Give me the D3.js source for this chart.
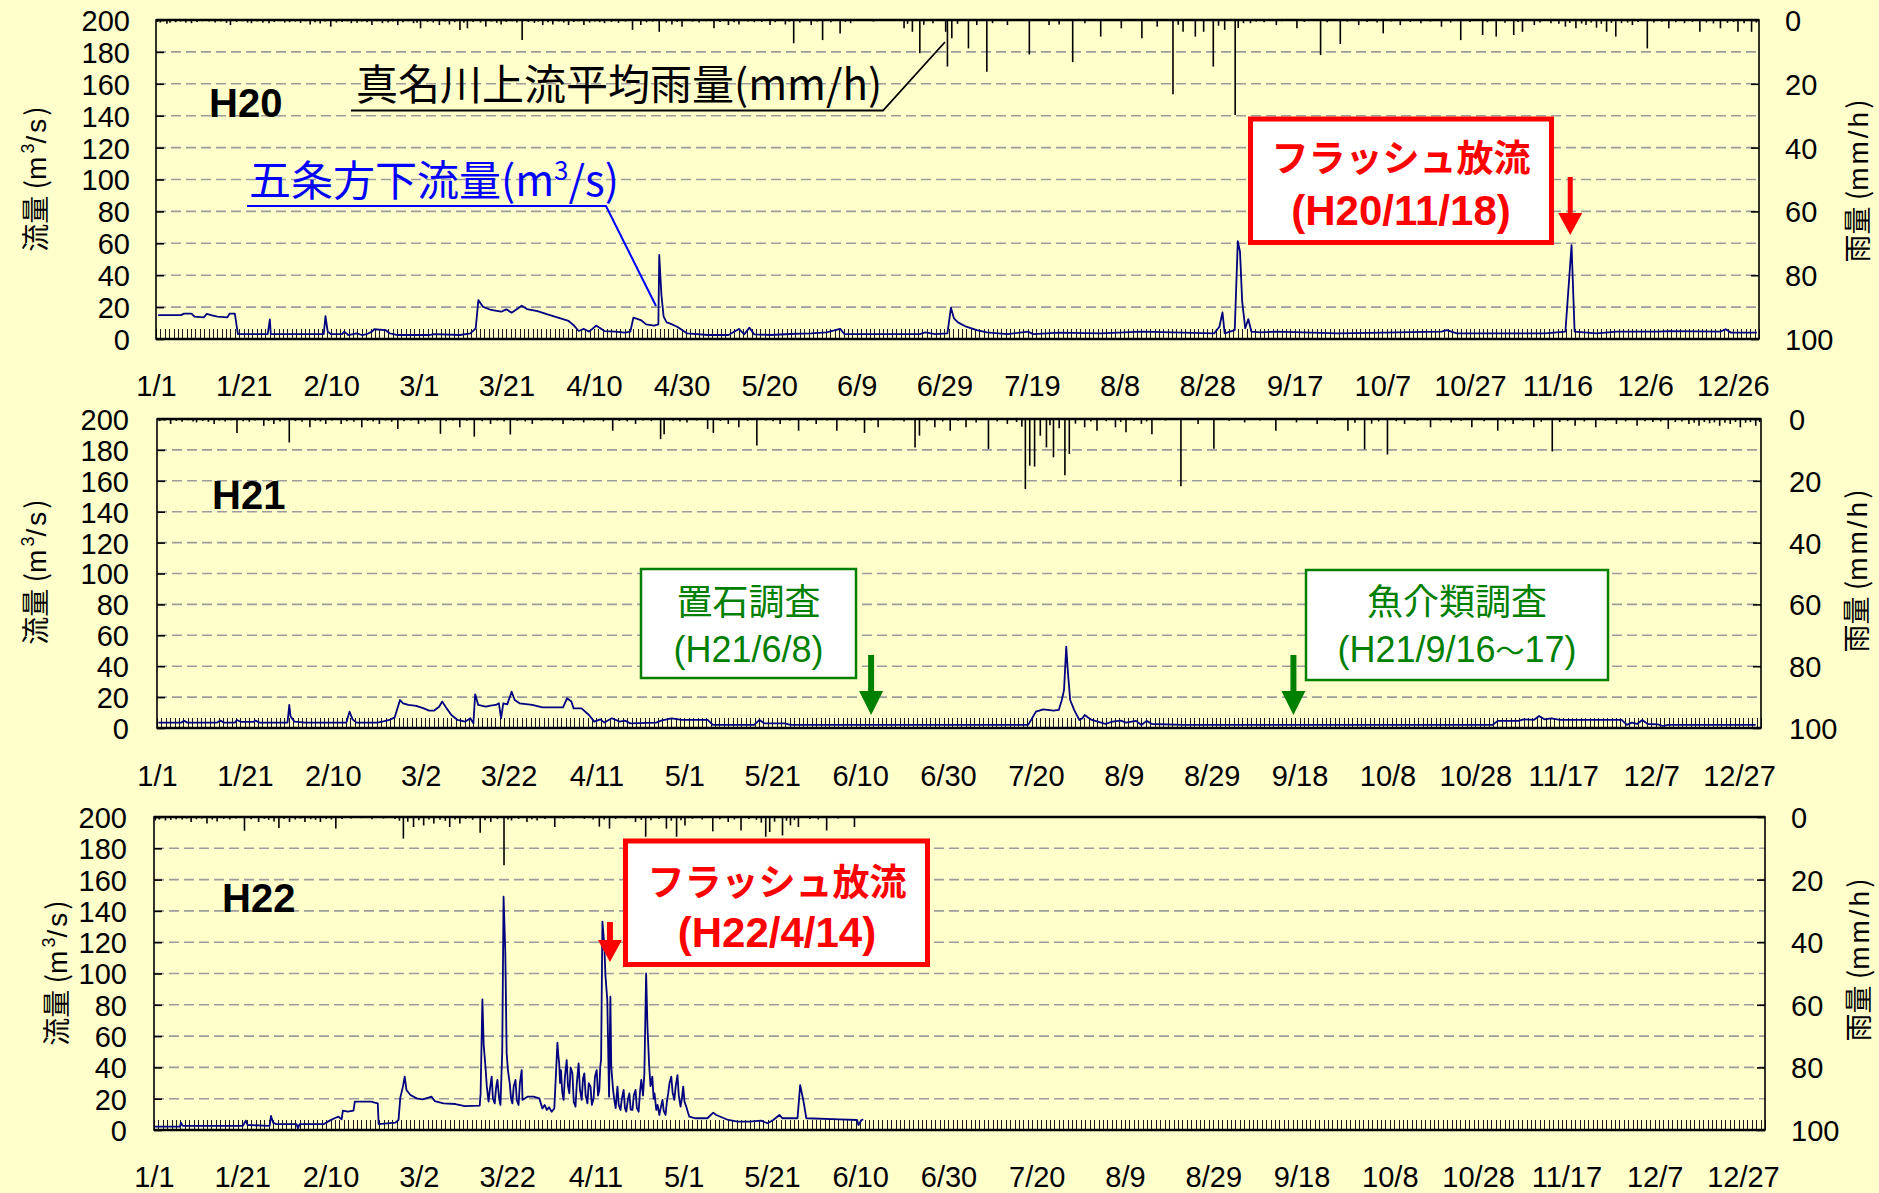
<!DOCTYPE html>
<html>
<head>
<meta charset="utf-8">
<script src="https://cdn.jsdelivr.net/npm/d3@7/dist/d3.min.js"></script>
<style>
  html, body { margin: 0; padding: 0; background: #FFFFCC; }
  svg { display: block; }
</style>
</head>
<body>
<script>
// ---- Flow at Gojōhō-shimo (m3/s): [day offset from 1/1, value] ----
const flowH20 = [
  [0.5,15.0],[5.7,15.0],[6.4,15.9],[8.1,15.9],[8.8,14.0],[10.9,13.6],[11.6,15.7],[12.8,14.8],[14.0,14.0],[16.3,13.6],
  [16.8,15.9],[18.0,15.9],[18.7,3.1],[25.5,3.1],[26.0,12.3],[26.2,3.1],[38.3,3.1],[38.7,14.4],[39.2,4.6],[39.9,3.1],
  [42.5,3.1],[43.0,4.6],[43.9,2.5],[45.8,3.5],[47.0,2.5],[48.2,3.1],[49.3,4.6],[49.8,6.1],[52.4,5.6],[53.4,3.5],
  [55.2,2.5],[62.3,2.5],[63.5,3.1],[69.4,2.5],[71.8,3.5],[73.0,6.7],[73.6,24.4],[74.6,20.3],[76.5,18.2],[78.8,17.1],
  [80.0,18.6],[81.2,16.5],[83.5,20.9],[84.7,18.8],[87.1,17.5],[89.4,15.4],[91.8,13.4],[94.2,11.3],[95.3,8.8],[96.5,5.0],
  [97.7,6.3],[98.9,4.6],[100.5,8.4],[102.4,5.0],[104.8,4.6],[107.1,4.0],[108.3,4.6],[109.0,13.4],[110.7,11.9],[111.9,9.2],
  [113.7,8.4],[114.7,9.2],[114.9,52.7],[115.4,27.6],[115.9,14.0],[116.6,10.4],[117.3,9.8],[119.0,7.7],[120.1,5.6],[121.3,3.5],
  [126.0,2.5],[130.7,2.5],[133.1,6.3],[134.3,2.9],[135.5,7.1],[136.6,2.9],[140.2,2.5],[146.1,3.3],[149.6,3.5],[153.1,4.2],
  [156.2,6.3],[157.2,3.1],[174.4,3.1],[175.6,4.2],[177.9,3.1],[180.7,3.5],[181.5,19.6],[182.2,12.9],[183.1,10.4],[185.0,7.7],
  [187.4,5.6],[189.7,4.2],[194.4,3.1],[199.1,4.6],[200.3,3.1],[206.2,4.0],[215.7,3.5],[225.1,4.6],[232.2,4.2],[241.6,3.5],
  [242.8,7.7],[243.5,16.7],[244.0,3.5],[246.3,5.6],[247.0,61.4],[247.5,54.8],[248.0,23.4],[248.7,6.7],[249.4,12.5],[250.1,4.6],
  [252.2,4.2],[255.8,4.6],[269.9,3.5],[293.5,4.6],[294.7,5.6],[297.0,3.5],[317.1,3.5],[321.8,4.6],[323.2,58.9],[323.9,4.6],
  [328.9,3.5],[333.6,4.6],[343.0,4.6],[345.4,5.0],[357.2,4.6],[358.4,6.1],[359.6,4.0],[365.5,4.0]
];
const flowH21 = [
  [0.3,3.5],[5.5,3.5],[6.2,4.6],[6.9,3.5],[13.7,3.5],[14.4,4.8],[15.3,3.5],[17.7,3.5],[18.2,5.2],[19.1,3.9],
  [21.9,3.9],[22.4,4.8],[23.3,3.5],[29.7,3.5],[30.1,14.9],[30.4,7.4],[31.3,4.1],[33.7,3.5],[43.1,3.5],[43.8,10.6],
  [44.5,5.6],[45.4,3.5],[50.1,3.5],[51.3,4.1],[52.9,5.2],[54.1,6.9],[55.3,18.1],[56.0,16.0],[57.2,14.9],[59.0,14.3],
  [60.7,12.7],[61.9,11.2],[63.0,11.2],[64.2,13.8],[64.9,17.1],[65.9,12.7],[67.0,8.4],[68.4,5.2],[70.1,4.1],[71.3,6.3],
  [72.0,3.0],[72.4,21.8],[73.1,14.9],[74.8,13.8],[75.9,14.5],[77.1,14.9],[77.8,16.0],[78.3,6.3],[78.8,16.0],[79.7,15.3],
  [80.7,23.5],[81.4,18.1],[82.5,16.0],[85.4,14.9],[87.7,13.4],[92.4,13.4],[93.3,19.2],[94.3,17.1],[94.8,12.7],[96.6,12.7],
  [98.3,8.4],[99.5,4.1],[100.9,5.6],[101.8,3.5],[103.5,6.3],[105.3,4.1],[106.5,4.8],[107.7,3.0],[113.6,3.5],[114.7,4.8],
  [117.1,6.3],[119.4,5.2],[125.3,5.2],[126.5,2.0],[135.9,2.0],[137.1,5.2],[138.2,3.0],[142.9,3.0],[144.1,2.0],[198.2,2.0],
  [198.9,5.2],[200.0,10.6],[201.7,12.1],[204.0,11.2],[205.2,11.7],[205.9,18.1],[206.4,24.6],[206.9,52.6],[207.3,35.4],[207.8,18.1],
  [208.7,11.7],[209.9,5.2],[210.6,6.3],[211.1,8.4],[211.8,6.9],[212.7,5.2],[214.1,4.1],[215.8,2.6],[217.4,4.1],[219.3,4.8],
  [220.5,3.5],[222.8,4.6],[224.0,2.0],[225.2,4.6],[226.4,2.6],[233.4,2.0],[303.9,2.0],[305.1,4.6],[309.8,4.6],[311.0,5.6],
  [313.3,5.2],[314.5,7.8],[315.7,5.6],[317.3,6.3],[319.2,5.2],[333.3,5.2],[334.5,2.0],[335.6,3.5],[336.8,2.6],[338.0,5.2],
  [339.2,2.6],[341.5,2.4],[342.7,1.3],[343.9,2.0],[363.8,2.0]
];
const flowH22 = [
  [0.2,2.1],[5.9,2.1],[6.1,4.7],[6.5,2.6],[20.1,2.6],[20.8,6.0],[21.2,3.2],[26.2,2.6],[26.5,9.0],[27.0,4.7],
  [27.6,3.8],[32.3,3.8],[32.6,1.1],[33.0,3.8],[38.5,3.8],[39.8,6.0],[40.9,7.5],[41.8,8.5],[42.5,6.8],[42.8,12.4],
  [43.9,11.7],[45.2,12.4],[45.5,18.1],[49.3,18.1],[50.0,17.5],[50.7,17.0],[50.9,3.8],[54.7,4.7],[55.4,6.4],[55.8,20.7],
  [56.4,27.7],[56.8,34.1],[57.2,25.6],[58.1,22.4],[59.5,20.2],[60.9,19.6],[62.9,21.3],[63.6,18.5],[65.6,17.0],[68.3,16.6],
  [70.4,15.3],[73.8,15.6],[74.0,23.4],[74.4,83.5],[74.7,54.3],[75.1,40.5],[75.4,28.0],[75.8,18.1],[76.1,26.0],[76.5,34.1],
  [76.8,20.0],[77.2,17.0],[77.5,27.0],[77.8,32.0],[78.2,20.0],[78.5,16.0],[78.9,50.1],[79.2,149.1],[79.6,112.9],[79.9,49.0],
  [80.2,38.0],[80.6,29.8],[80.9,20.0],[81.2,17.0],[81.5,28.0],[81.9,32.0],[82.2,19.0],[82.6,16.0],[82.9,30.0],[83.3,38.3],
  [83.5,19.2],[84.6,21.3],[86.0,21.3],[87.3,20.2],[88.0,13.8],[88.5,16.0],[89.0,12.8],[89.5,14.5],[90.1,11.7],[90.7,13.8],
  [91.4,55.8],[91.6,48.0],[91.8,42.6],[92.0,30.0],[92.2,38.3],[92.5,24.0],[92.8,19.2],[93.1,34.0],[93.5,44.7],[93.8,28.0],
  [94.1,23.4],[94.4,40.0],[94.8,36.2],[95.1,18.0],[95.5,14.9],[95.8,30.0],[96.2,42.6],[96.5,26.0],[96.9,19.2],[97.2,33.0],
  [97.5,36.2],[97.8,22.0],[98.2,17.0],[98.5,30.0],[98.9,27.7],[99.2,16.0],[99.6,20.2],[99.9,34.0],[100.3,38.3],[100.6,22.0],
  [100.9,25.6],[101.1,40.0],[101.3,45.2],[101.6,133.1],[102.0,119.3],[102.3,98.0],[102.7,83.1],[103.1,21.3],[103.4,85.2],[103.6,40.5],
  [104.0,26.0],[104.3,19.2],[104.6,14.0],[105.0,27.7],[105.3,16.0],[105.7,12.8],[106.0,20.0],[106.4,25.6],[106.7,14.0],[107.0,11.7],
  [107.4,20.0],[107.7,23.4],[108.0,13.0],[108.4,12.8],[108.7,22.0],[109.1,25.6],[109.4,14.0],[109.8,11.7],[110.1,24.0],[110.4,32.0],
  [110.8,22.0],[111.1,36.2],[111.5,100.1],[111.8,66.0],[112.2,40.5],[112.5,28.0],[112.9,34.1],[113.2,20.0],[113.4,23.4],[113.8,12.8],
  [114.1,16.0],[114.5,9.6],[114.8,14.0],[115.2,19.2],[115.5,12.0],[115.9,9.6],[116.2,18.0],[116.5,23.4],[116.8,30.0],[117.2,34.1],
  [117.5,24.0],[117.9,19.2],[118.2,28.0],[118.6,35.1],[118.9,22.0],[119.3,14.9],[119.6,20.0],[119.9,27.7],[120.2,18.0],[120.6,14.9],
  [121.0,11.0],[121.3,8.5],[122.7,7.5],[125.4,7.5],[126.7,11.1],[127.4,9.6],[130.1,6.4],[132.2,5.3],[134.9,5.3],[137.6,6.0],
  [139.0,4.3],[140.3,6.4],[141.7,9.6],[142.4,7.5],[145.8,7.5],[146.4,28.7],[147.1,19.2],[147.8,7.5],[155.3,6.8],[159.3,6.4],
  [159.6,3.2],[160.3,6.4],[160.7,6.8]
];

// ---- Mean hourly rainfall upstream of the Managawa (mm/h): [day offset, value] ----
const rainH20 = [
  [0.3,0.6],[1,0.8],[1.8,0.4],[2.5,1.2],[3.2,0.9],[4.5,0.7],[5.6,0.5],[6.8,0.8],[8.1,1.0],[9.4,0.6],
  [10.6,0.4],[12.1,0.5],[13.5,0.8],[14.8,0.5],[16.1,0.9],[17.0,1.6],[18.4,0.6],[19.7,0.4],[20.9,0.8],[21.8,1.0],
  [23.1,0.5],[24.4,0.9],[25.8,1.0],[27.0,0.6],[28.3,0.4],[29.4,0.8],[30.5,0.7],[31.8,0.5],[33.0,0.9],[34.1,0.4],
  [35.2,1.4],[36.3,0.7],[37.5,1.1],[38.6,0.5],[39.9,2.1],[41.2,0.8],[42.5,0.6],[43.6,0.4],[44.6,1.0],[45.9,0.9],
  [47.0,0.5],[48.2,0.7],[49.3,1.6],[50.5,0.4],[51.7,1.0],[53.0,0.8],[54.1,0.5],[55.2,1.6],[56.4,0.7],[57.6,0.4],
  [58.8,1.0],[59.6,0.9],[60.4,2.6],[62.0,0.6],[63.3,0.8],[64.7,1.6],[66.0,0.5],[67.0,1.4],[68.2,0.7],[69.4,3.1],
  [70.3,0.9],[71.1,2.6],[72.4,0.6],[74.1,0.8],[75.3,2.1],[76.6,0.5],[77.8,0.9],[78.8,1.4],[80.0,0.6],[81.3,0.4],
  [82.4,0.8],[83.6,6.3],[85.0,0.6],[86.4,0.9],[87.3,0.5],[88.3,1.6],[89.5,0.7],[90.6,1.4],[92.0,0.5],[93.1,0.8],
  [94.2,1.6],[95.4,0.6],[96.5,0.4],[97.7,1.6],[99.0,0.8],[100.2,0.5],[101.3,0.7],[102.4,1.0],[104.0,0.6],[105.6,0.9],
  [107.2,0.5],[108.8,3.1],[110.7,1.6],[112.0,0.7],[113.4,0.5],[114.9,3.7],[116.5,0.8],[117.8,1.4],[119.0,0.6],[120.1,2.1],
  [122.5,0.5],[124.0,0.8],[125.6,0.4],[127.4,2.6],[128.8,0.6],[130.7,1.6],[132.0,0.7],[133.1,1.4],[135.2,0.5],[136.6,0.7],
  [138.3,0.6],[140.2,1.6],[141.4,0.7],[143.7,1.4],[144.6,0.5],[145.6,7.3],[147.0,0.8],[149.6,1.6],[151.0,0.5],[152.2,6.3],
  [154.1,0.7],[156.2,4.2],[157.4,0.6],[158.6,1.0],[163.8,0.5],[170.8,2.6],[171.6,1.2],[172.7,3.7],[174.4,10.4],[175.3,1.5],
  [177.4,1.0],[180.3,3.7],[180.7,14.6],[181.7,5.7],[183.0,1.2],[185.5,8.9],[187.4,1.6],[189.7,16.2],[191.0,1.0],[194.4,1.6],
  [199.4,10.8],[203.9,1.6],[206.2,1.4],[209.3,13.2],[212.1,1.0],[215.7,5.2],[220.4,2.6],[225.1,5.7],[228.6,2.1],[232.2,23.3],
  [233.4,1.5],[234.5,3.7],[237.3,5.2],[239.2,3.7],[241.4,14.6],[242.6,1.8],[244.0,3.1],[246.4,29.8],[247.1,2.5],[248.3,1.0],
  [249.9,1.0],[251.2,0.5],[253.0,0.7],[255.8,1.6],[257.0,0.4],[260.5,2.6],[262.2,0.6],[265.9,11.0],[267.4,0.7],[270.4,7.5],
  [272.0,0.5],[274.6,1.6],[276.5,0.6],[278.8,0.8],[280.2,4.2],[282.0,0.5],[284.1,1.6],[286.4,0.6],[288.8,1.0],[291.0,0.5],
  [293.5,2.1],[295.6,0.8],[297.9,6.3],[300.0,0.6],[302.9,4.7],[304.0,0.7],[306.0,5.2],[308.0,0.9],[310.0,4.7],[311.0,0.6],
  [312.0,3.7],[314.7,1.6],[316.0,0.8],[318.5,1.0],[320.3,1.2],[321.8,2.1],[322.8,0.9],[324.2,2.6],[325.5,1.1],[326.5,1.6],
  [327.7,0.8],[328.9,2.4],[330.0,1.2],[331.2,3.7],[332.3,0.9],[333.3,5.2],[334.6,1.0],[336.0,0.8],[337.1,1.6],[338.4,0.6],
  [340.5,8.9],[342.0,0.8],[343.8,0.5],[345.4,2.6],[347.0,0.7],[349.0,1.0],[350.8,0.6],[352.5,3.7],[354.0,0.8],[355.6,1.1],
  [357.2,2.6],[358.8,0.9],[360.2,0.6],[361.2,3.7],[362.6,1.0],[364.3,3.7],[365.4,0.8]
];
const rainH21 = [
  [0.6,0.7],[1.8,0.5],[3.1,1.6],[4.4,0.6],[5.7,0.9],[7.0,0.4],[8.2,0.8],[9.0,1.1],[10.4,0.6],[11.7,0.9],
  [13.0,1.6],[14.2,0.5],[15.5,0.8],[16.8,0.4],[18.2,4.5],[19.6,0.7],[21.0,0.9],[22.3,0.5],[24.3,2.2],[25.4,0.6],
  [26.6,1.6],[28.0,0.8],[29.1,0.5],[30.1,7.6],[31.5,0.7],[33.0,0.9],[34.8,2.7],[36.0,0.6],[37.2,0.8],[38.4,1.6],
  [39.8,0.5],[41.9,1.6],[43.2,0.7],[44.8,0.9],[46.6,2.7],[47.9,0.6],[49.2,0.8],[50.6,1.6],[52.0,0.5],[53.4,0.9],
  [54.8,3.2],[56.2,0.7],[57.8,0.5],[59.5,1.6],[61.0,0.8],[62.6,0.5],[64.5,4.8],[65.8,0.7],[67.4,0.5],[68.9,2.7],
  [70.5,0.6],[72.2,5.7],[74.0,0.7],[75.9,1.6],[77.4,0.5],[79.0,0.8],[80.4,5.0],[82.0,0.6],[83.8,0.8],[85.4,1.6],
  [87.5,0.5],[90.0,0.7],[92.4,1.6],[94.8,0.6],[97.1,1.1],[99.5,0.5],[101.6,0.8],[103.7,3.8],[105.2,0.6],[107.0,0.8],
  [108.9,1.6],[110.6,0.5],[112.5,0.7],[114.6,6.5],[115.4,4.9],[117.4,0.6],[119.0,0.8],[120.6,1.1],[122.8,0.5],[125.3,3.2],
  [126.6,4.5],[128.2,0.6],[130.0,1.6],[132.4,2.7],[134.4,0.6],[136.5,8.6],[138.5,0.5],[140.2,0.7],[141.8,1.6],[144.0,0.5],
  [146.0,3.8],[148.0,0.6],[150.0,1.6],[152.5,0.5],[154.7,3.8],[157.0,0.6],[159.0,0.8],[161.0,4.5],[162.5,0.5],[164.1,2.7],
  [167.6,0.5],[170.0,0.8],[172.5,9.2],[173.5,5.4],[175.2,0.7],[177.0,2.7],[178.8,0.8],[180.5,3.8],[182.3,0.6],[184.1,2.7],
  [186.4,1.1],[189.2,9.7],[191.2,0.8],[193.5,1.6],[195.6,1.0],[196.8,2.5],[197.6,22.7],[198.6,15.1],[199.7,15.4],[201.0,5.4],
  [202.4,9.2],[203.2,2.0],[204.0,12.4],[205.3,3.0],[206.6,18.2],[207.6,11.3],[209.0,1.5],[211.1,2.7],[212.5,0.8],[213.9,3.8],
  [216.0,0.7],[218.1,2.7],[219.3,1.0],[220.5,4.3],[222.3,0.6],[224.0,1.6],[225.2,0.8],[226.4,4.9],[229.5,0.5],[233.0,21.8],
  [236.9,1.6],[240.5,9.6],[244.0,0.6],[247.5,1.1],[251.0,0.5],[254.6,3.8],[259.3,1.1],[264.0,1.6],[268.0,0.6],[271.0,3.8],
  [272.6,1.2],[274.8,9.8],[276.4,1.5],[278.0,0.8],[280.0,11.5],[282.0,0.7],[283.9,1.6],[286.8,0.6],[289.8,2.7],[292.0,0.5],
  [294.5,1.1],[296.8,0.6],[299.2,2.7],[302.0,0.7],[305.1,3.8],[306.8,0.8],[308.6,1.6],[310.8,0.6],[313.3,2.7],[315.0,0.9],
  [317.5,10.5],[319.2,1.0],[321.0,0.7],[322.7,2.2],[324.8,0.8],[327.4,2.7],[329.6,0.6],[332.1,1.6],[334.2,0.8],[336.8,2.2],
  [338.6,0.7],[340.4,1.0],[342.2,0.8],[343.9,3.2],[345.5,1.0],[347.0,0.8],[348.6,1.6],[349.8,1.2],[350.9,2.2],[352.1,1.0],
  [353.3,1.4],[354.4,1.1],[355.6,2.2],[356.8,1.2],[358.0,1.6],[359.2,1.0],[360.3,2.7],[361.5,1.2],[362.6,1.0],[363.8,2.2],
  [364.7,1.0]
];
const rainH22 = [
  [0.3,1.1],[1.2,0.8],[2.6,1.1],[3.8,0.9],[5.0,0.7],[6.4,0.8],[7.4,0.5],[8.4,1.6],[9.6,0.7],[10.8,0.5],
  [12.0,2.1],[13.2,0.8],[14.3,1.4],[15.8,0.6],[17.2,0.8],[18.6,0.5],[20.5,4.4],[22.0,0.7],[23.7,1.6],[25.0,0.6],
  [26.0,0.9],[27.2,1.4],[28.3,3.5],[29.5,0.6],[30.7,1.6],[32.0,0.8],[33.2,0.5],[34.2,1.6],[35.5,0.7],[36.6,0.9],
  [37.7,1.6],[39.0,0.6],[40.2,0.8],[41.2,3.7],[42.6,0.6],[44.7,0.5],[47.0,0.4],[49.4,0.7],[52.0,0.5],[54.6,0.6],
  [55.6,1.2],[56.5,6.9],[57.5,1.5],[58.8,3.2],[60.0,1.0],[61.1,2.7],[62.3,0.8],[63.4,2.1],[64.8,0.9],[66.0,1.2],
  [67.0,3.2],[68.2,0.8],[69.3,2.1],[70.6,0.6],[72.2,0.9],[73.9,5.0],[75.0,1.0],[76.3,1.6],[77.8,0.7],[79.3,15.4],
  [80.2,0.8],[81.0,1.1],[82.6,0.6],[84.5,1.6],[85.6,0.7],[86.8,1.1],[88.6,0.6],[90.8,3.2],[92.8,0.6],[95.0,0.5],
  [97.5,0.6],[99.5,0.8],[100.9,3.1],[102.0,0.8],[103.2,3.7],[104.6,0.6],[106.8,0.5],[109.1,1.6],[110.4,0.9],[111.4,6.3],
  [112.6,1.0],[114.4,0.6],[116.1,3.7],[117.2,1.2],[118.4,6.3],[119.4,1.0],[120.3,2.7],[122.0,0.6],[124.2,0.8],[126.6,4.6],
  [128.2,0.7],[130.1,1.6],[131.5,0.8],[133.0,4.3],[134.8,0.6],[136.5,0.9],[137.6,1.8],[138.6,6.3],[139.5,4.8],[140.6,1.5],
  [142.4,5.9],[143.3,1.2],[144.2,2.7],[145.1,1.0],[146.0,3.2],[148.6,0.6],[150.5,0.8],[152.4,4.3],[155.0,0.5],[158.7,3.2]
];

// ---- Axis ticks ----
const dayTicks = [0,20,40,60,80,100,120,140,160,180,200,220,240,260,280,300,320,340,360];
const dateLabelsH20 = ['1/1','1/21','2/10','3/1','3/21','4/10','4/30','5/20','6/9','6/29','7/19','8/8','8/28','9/17','10/7','10/27','11/16','12/6','12/26'];
const dateLabelsH21 = ['1/1','1/21','2/10','3/2','3/22','4/11','5/1','5/21','6/10','6/30','7/20','8/9','8/29','9/18','10/8','10/28','11/17','12/7','12/27'];
const dateLabelsH22 = ['1/1','1/21','2/10','3/2','3/22','4/11','5/1','5/21','6/10','6/30','7/20','8/9','8/29','9/18','10/8','10/28','11/17','12/7','12/27'];
const flowTicks = [0,20,40,60,80,100,120,140,160,180,200];
const rainTicks = [0,20,40,60,80,100];

// ---- Event dates (day offsets) ----
const flushH20Day = 322.9;    // H20/11/18
const flushH22Day = 103.3;    // H22/4/14
const stoneSurveyDay = 162.5; // 置石調査
const fishSurveyDay = 258.6;  // 魚介類調査 9/16-17

const W = 1879, H = 1193;
const CJK = '"Noto Sans CJK JP", "Noto Sans CJK SC", sans-serif';
const LAT = '"Liberation Sans", Arial, sans-serif';

const svg = d3.select('body').append('svg').attr('width', W).attr('height', H);
svg.append('rect').attr('width', W).attr('height', H).attr('fill', '#FFFFCC');

function drawPanel(p) {
  const g = svg.append('g');
  const x = d3.scaleLinear().domain([0, p.days]).range([p.l, p.r]);
  const y = d3.scaleLinear().domain([0, 200]).range([p.b, p.t]);
  const yr = d3.scaleLinear().domain([0, 100]).range([p.t, p.b]);

  // dashed horizontal grid
  g.append('g').selectAll('line')
    .data(flowTicks.filter(v => v > 0 && v < 200)).join('line')
    .attr('x1', p.l).attr('x2', p.r)
    .attr('y1', d => y(d)).attr('y2', d => y(d))
    .attr('stroke', '#9c9c9c').attr('stroke-width', 1.6)
    .attr('stroke-dasharray', '10,5');

  // daily minor ticks along the bottom
  g.append('g').selectAll('line')
    .data(d3.range(0, p.days + 1)).join('line')
    .attr('x1', d => Math.round(x(d)) + 0.5).attr('x2', d => Math.round(x(d)) + 0.5)
    .attr('y1', p.b).attr('y2', p.b - 10)
    .attr('stroke', '#1a1a1a').attr('stroke-width', 1);

  // rainfall bars hanging from the top
  g.append('g').selectAll('line')
    .data(p.rain).join('line')
    .attr('x1', d => x(d[0])).attr('x2', d => x(d[0]))
    .attr('y1', p.t).attr('y2', d => yr(d[1]))
    .attr('stroke', '#000').attr('stroke-width', 1.6);

  // flow line
  g.append('path').datum(p.flow)
    .attr('d', d3.line().x(d => x(d[0])).y(d => y(d[1])))
    .attr('fill', 'none').attr('stroke', '#000080')
    .attr('stroke-width', 1.8).attr('stroke-linejoin', 'round');

  // frame
  g.append('rect')
    .attr('x', p.l).attr('y', p.t).attr('width', p.r - p.l).attr('height', p.b - p.t)
    .attr('fill', 'none').attr('stroke', '#000').attr('stroke-width', 1.6);
  g.append('line').attr('x1', p.l).attr('x2', p.r).attr('y1', p.t).attr('y2', p.t)
    .attr('stroke', '#000').attr('stroke-width', 2.4);
  g.append('line').attr('x1', p.l).attr('x2', p.r).attr('y1', p.b).attr('y2', p.b)
    .attr('stroke', '#000').attr('stroke-width', 2.4);

  // left axis (flow)
  const ax = g.append('g').attr('transform', `translate(${p.l},0)`)
    .call(d3.axisLeft(y).tickValues(flowTicks).tickSize(-8).tickPadding(p.lPad));
  // right axis (rain)
  const ar = g.append('g').attr('transform', `translate(${p.r},0)`)
    .call(d3.axisRight(yr).tickValues(rainTicks).tickSize(-8).tickPadding(p.rPad));
  // bottom axis (dates)
  const ab = g.append('g').attr('transform', `translate(0,${p.b})`)
    .call(d3.axisBottom(x).tickValues(dayTicks).tickSize(0).tickFormat((d, i) => p.labels[i]));
  ab.selectAll('text').attr('y', p.xLabY - p.b).attr('dy', '0.36em');

  [ax, ar, ab].forEach(a => {
    a.select('.domain').remove();
    a.selectAll('line').attr('stroke', '#000').attr('stroke-width', 1.6);
    a.selectAll('text').attr('fill', '#000')
      .style('font-family', LAT).style('font-size', '29px');
  });
  ax.selectAll('text').attr('dy', '0.36em');
  ar.selectAll('text').attr('dy', '0.36em');

  // year label
  g.append('text').attr('x', p.yearX).attr('y', p.yearY)
    .style('font-family', LAT).style('font-weight', 'bold').style('font-size', '40px')
    .attr('fill', '#000').text(p.year);

  // axis titles
  const lt = g.append('text')
    .attr('transform', `translate(${p.ltX},${p.ltY}) rotate(-90)`)
    .attr('text-anchor', 'middle').attr('fill', '#000')
    .style('font-family', CJK).style('font-size', '28px');
  lt.append('tspan').text('流量 (');
  lt.append('tspan').style('font-family', LAT).attr('letter-spacing', 3).text('m');
  lt.append('tspan').style('font-family', LAT).style('font-size', '18px').attr('dy', -12).text('3');
  lt.append('tspan').style('font-family', LAT).attr('dy', 12).attr('letter-spacing', 3).text('/s');
  lt.append('tspan').text(')');

  const rt = g.append('text')
    .attr('transform', `translate(${p.rtX},${p.rtY}) rotate(-90)`)
    .attr('text-anchor', 'middle').attr('fill', '#000')
    .style('font-family', CJK).style('font-size', '28px');
  rt.append('tspan').text('雨量 (');
  rt.append('tspan').style('font-family', LAT).attr('letter-spacing', 3).text('mm/h');
  rt.append('tspan').text(')');

  return { x, y, yr, g };
}

function arrow(g, cx, yTop, yTip, color, shaftW, headW, headH) {
  const path = d3.path();
  path.moveTo(cx - shaftW / 2, yTop);
  path.lineTo(cx + shaftW / 2, yTop);
  path.lineTo(cx + shaftW / 2, yTip - headH);
  path.lineTo(cx + headW / 2, yTip - headH);
  path.lineTo(cx, yTip);
  path.lineTo(cx - headW / 2, yTip - headH);
  path.lineTo(cx - shaftW / 2, yTip - headH);
  path.closePath();
  g.append('path').attr('d', path.toString()).attr('fill', color);
}

function noteBox(g, x0, y0, x1, y1, color, strokeW) {
  g.append('rect').attr('x', x0).attr('y', y0).attr('width', x1 - x0).attr('height', y1 - y0)
    .attr('fill', '#fff').attr('stroke', color).attr('stroke-width', strokeW);
}

// ---------- H20 ----------
const P1 = drawPanel({
  year: 'H20', flow: flowH20, rain: rainH20, labels: dateLabelsH20, days: 366,
  l: 156, r: 1759, t: 20, b: 339, lPad: 26, rPad: 26, xLabY: 386,
  yearX: 209, yearY: 117, ltX: 46, ltY: 179, rtX: 1868, rtY: 181
});
{
  const g = P1.g;
  // rainfall caption with leader
  g.append('text').attr('x', 356).attr('y', 100).attr('fill', '#000')
    .style('font-family', CJK).style('font-size', '42px').text('真名川上流平均雨量(mm/h)');
  g.append('polyline').attr('points', '351,110.5 883,110.5 945,42')
    .attr('fill', 'none').attr('stroke', '#000').attr('stroke-width', 1.8);
  // flow caption with leader
  const ft = g.append('text').attr('x', 249).attr('y', 196).attr('fill', '#0000FF')
    .style('font-family', CJK).style('font-size', '42px');
  ft.append('tspan').text('五条方下流量(m');
  ft.append('tspan').style('font-size', '26px').attr('dy', -16).text('3');
  ft.append('tspan').attr('dy', 16).text('/s)');
  g.append('polyline').attr('points', '247,206 606,206 656,306')
    .attr('fill', 'none').attr('stroke', '#0000FF').attr('stroke-width', 2);

  // flush release note
  noteBox(g, 1250.5, 119, 1551.5, 242.5, '#FF0000', 5);
  g.append('text').attr('x', 1401).attr('y', 172).attr('text-anchor', 'middle').attr('fill', '#FF0000')
    .style('font-family', CJK).style('font-weight', 'bold').style('font-size', '37px').text('フラッシュ放流');
  g.append('text').attr('x', 1401).attr('y', 225).attr('text-anchor', 'middle').attr('fill', '#FF0000')
    .style('font-family', LAT).style('font-weight', 'bold').style('font-size', '42px').text('(H20/11/18)');
  arrow(g, P1.x(flushH20Day), 177, 235, '#FF0000', 5, 24, 22);
}

// ---------- H21 ----------
const P2 = drawPanel({
  year: 'H21', flow: flowH21, rain: rainH21, labels: dateLabelsH21, days: 365,
  l: 157, r: 1761, t: 419, b: 728, lPad: 28, rPad: 28, xLabY: 776,
  yearX: 212, yearY: 509, ltX: 46, ltY: 572, rtX: 1867, rtY: 571
});
{
  const g = P2.g;
  const GREEN = '#008000';
  noteBox(g, 641, 569, 856, 678, GREEN, 2.5);
  g.append('text').attr('x', 748.5).attr('y', 615).attr('text-anchor', 'middle').attr('fill', GREEN)
    .style('font-family', CJK).style('font-size', '36px').text('置石調査');
  g.append('text').attr('x', 748.5).attr('y', 662).attr('text-anchor', 'middle').attr('fill', GREEN)
    .style('font-family', LAT).style('font-size', '36px').text('(H21/6/8)');
  arrow(g, P2.x(stoneSurveyDay), 655, 715, GREEN, 6, 24, 24);

  noteBox(g, 1306, 570, 1608, 680, GREEN, 2.5);
  g.append('text').attr('x', 1457).attr('y', 615).attr('text-anchor', 'middle').attr('fill', GREEN)
    .style('font-family', CJK).style('font-size', '36px').text('魚介類調査');
  const fl = g.append('text').attr('x', 1457).attr('y', 662).attr('text-anchor', 'middle').attr('fill', GREEN)
    .style('font-family', LAT).style('font-size', '36px');
  fl.append('tspan').text('(H21/9/16');
  fl.append('tspan').style('font-family', CJK).style('font-size', '29px').text('～');
  fl.append('tspan').text('17)');
  arrow(g, P2.x(fishSurveyDay), 655, 715, GREEN, 6, 24, 24);
}

// ---------- H22 ----------
const P3 = drawPanel({
  year: 'H22', flow: flowH22, rain: rainH22, labels: dateLabelsH22, days: 365,
  l: 154, r: 1765, t: 817, b: 1130, lPad: 27, rPad: 26, xLabY: 1177,
  yearX: 222, yearY: 912, ltX: 67, ltY: 973, rtX: 1869, rtY: 960
});
{
  const g = P3.g;
  noteBox(g, 625.5, 841, 927.5, 964.5, '#FF0000', 5);
  g.append('text').attr('x', 777).attr('y', 896).attr('text-anchor', 'middle').attr('fill', '#FF0000')
    .style('font-family', CJK).style('font-weight', 'bold').style('font-size', '37px').text('フラッシュ放流');
  g.append('text').attr('x', 777).attr('y', 947).attr('text-anchor', 'middle').attr('fill', '#FF0000')
    .style('font-family', LAT).style('font-weight', 'bold').style('font-size', '42px').text('(H22/4/14)');
  arrow(g, P3.x(flushH22Day), 922, 962, '#FF0000', 6, 24, 22);
}
</script>
</body>
</html>
